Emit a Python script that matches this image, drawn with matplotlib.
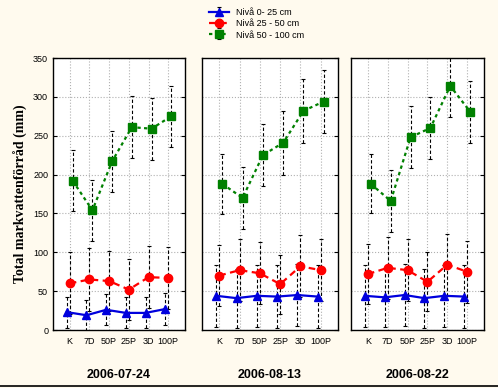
import matplotlib.pyplot as plt
import numpy as np

# Categories and dates
treatments = ['K', '7D', '50P', '25P', '3D', '100P']
dates = ['2006-07-24', '2006-08-13', '2006-08-22']

# Mean values per depth, one list per date
niva_0_25 = [
    [23, 19, 26, 22, 22, 27],
    [44, 41, 44, 43, 45, 43],
    [44, 42, 45, 41, 44, 43],
]
niva_25_50 = [
    [60, 65, 63, 52, 68, 67],
    [70, 77, 73, 59, 82, 77],
    [72, 80, 77, 62, 84, 75],
]
niva_50_100 = [
    [192, 154, 217, 261, 259, 275],
    [188, 170, 225, 241, 282, 294],
    [188, 166, 248, 260, 314, 281],
]

# Half widths of the error bars
err_0_25 = [
    [20, 20, 20, 20, 20, 20],
    [40, 38, 40, 40, 40, 40],
    [40, 38, 40, 38, 40, 40],
]
err_25_50 = [
    [40, 40, 39, 39, 40, 40],
    [39, 40, 40, 38, 40, 40],
    [39, 40, 40, 38, 40, 40],
]
err_50_100 = [
    [39, 39, 39, 40, 40, 39],
    [39, 40, 40, 41, 41, 40],
    [38, 40, 40, 40, 40, 40],
]

bg = '#FFFAEE'
fig = plt.figure(figsize=(4.98, 3.88), dpi=100, facecolor=bg)

# axes positions in figure fractions (from the pixel layout)
W, H = 498.0, 388.0
boxes = [(53, 185), (202, 338), (351, 484)]
top_px, bot_px = 58, 330

series = [
    (niva_0_25, err_0_25, '#0000DD', '^', '-', -0.15, 'Nivå 0- 25 cm'),
    (niva_25_50, err_25_50, 'red', 'o', (0, (3, 2)), 0.0, 'Nivå 25 - 50 cm'),
    (niva_50_100, err_50_100, 'green', 's', (0, (1.5, 1.5)), 0.15, 'Nivå 50 - 100 cm'),
]

x = np.arange(len(treatments))
handles = []
for i, (l, r) in enumerate(boxes):
    ax = fig.add_axes([l / W, 1 - bot_px / H, (r - l) / W, (bot_px - top_px) / H])
    ax.set_facecolor('white')
    for vals, errs, col, mk, ls, off, lab in series:
        eb = ax.errorbar(x + off, vals[i], yerr=errs[i], color=col, marker=mk,
                         linestyle=ls, linewidth=1.6, markersize=6,
                         ecolor='black', elinewidth=0.8, capsize=1.5,
                         capthick=0.8, label=lab, zorder=3)
        eb[2][0].set_linestyle((0, (3, 2)))
        if i == 0:
            handles.append(eb)
    ax.set_xlim(-0.85, 5.85)
    ax.set_ylim(0, 350)
    ax.set_xticks(x)
    ax.set_xticklabels(treatments, fontsize=6.5, family='Liberation Sans')
    ax.set_yticks(np.arange(0, 351, 50))
    ax.grid(True, color='#b0b0b0', linestyle=':', linewidth=0.8)
    ax.tick_params(axis='x', length=0, pad=5)
    ax.tick_params(axis='y', direction='in', length=3, labelsize=6.5,
                   right=True, left=(i == 0))
    if i == 0:
        for t in ax.get_yticklabels():
            t.set_family('Liberation Sans')
        ax.set_ylabel('Total markvattenförråd (mm)', family='Liberation Serif',
                      fontweight='bold', fontsize=10, labelpad=4)
    else:
        ax.set_yticklabels([])
    for s in ax.spines.values():
        s.set_linewidth(1.0)
    ax.text(0.5, -0.165, dates[i], transform=ax.transAxes, ha='center',
            va='center', fontsize=9, fontweight='bold', family='Liberation Sans')

fig.legend(handles=handles, loc='upper center', bbox_to_anchor=(0.515, 1.0),
           frameon=False, handlelength=2.2, labelspacing=0.25,
           prop={'family': 'Liberation Sans', 'size': 6.5})

# thin dark border along the bottom edge, as in the original export
fig.add_artist(plt.Line2D([0, 1], [0.004, 0.004], transform=fig.transFigure,
                          color='black', linewidth=1.2))

fig.savefig('out.png', dpi=100, facecolor=bg)
